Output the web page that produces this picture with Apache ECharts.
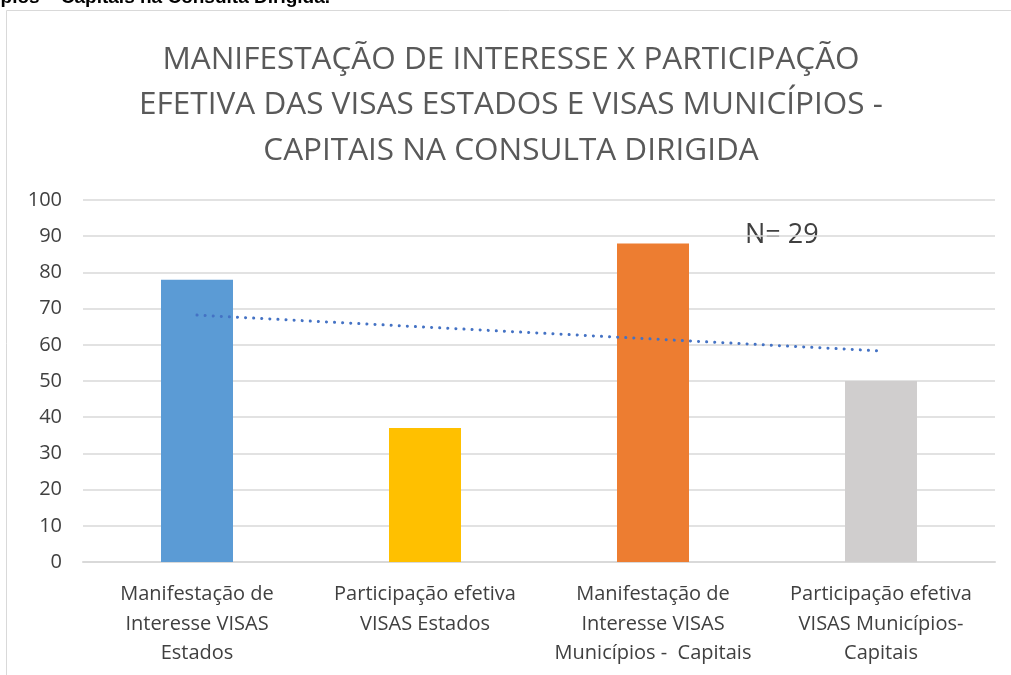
<!DOCTYPE html>
<html>
<head>
<meta charset="utf-8">
<script src="https://cdn.jsdelivr.net/npm/echarts@6/dist/echarts.min.js"></script>
<style>
html,body{margin:0;padding:0;background:#fff;}
#main{width:1011px;height:675px;}
</style>
</head>
<body>
<div id="main"></div>
<script>
var categories = [
	'Manifestação de\nInteresse VISAS\nEstados',
	'Participação efetiva\nVISAS Estados',
	'Manifestação de\nInteresse VISAS\nMunicípios -  Capitais',
	'Participação efetiva\nVISAS Municípios-\nCapitais'
];
var values = [78, 37, 88, 50];
var barColors = ['#5B9BD5', '#FFC000', '#ED7D31', '#D0CECE'];
// linha de tendência (pontilhada)
var trend = [68.2, 64.9, 61.6, 58.3];
var yTicks = [0, 100, 10];

var myChart = echarts.init(document.getElementById('main'));

var option = {
	animation: false,
	title: {
		text: 'MANIFESTAÇÃO DE INTERESSE X PARTICIPAÇÃO\nEFETIVA DAS VISAS ESTADOS E VISAS MUNICÍPIOS -\nCAPITAIS NA CONSULTA DIRIGIDA',
		left: 506,
		textAlign: 'center',
		top: 32,
		textStyle: {
			fontFamily: '"Open Sans", sans-serif',
			fontWeight: 'normal',
			fontSize: 31.5,
			lineHeight: 45.5,
			color: '#595959'
		}
	},
	graphic: [
		{
			type: 'rect',
			shape: { x: 6.5, y: 10.5, width: 1100, height: 800 },
			style: { fill: 'none', stroke: '#d9d9d9', lineWidth: 1 },
			silent: true
		},
		{
			type: 'text',
			right: 681,
			top: -12,
			style: {
				text: 'Visas Municípios – Capitais na Consulta Dirigida.',
				font: 'bold 19px "Liberation Sans", Arial, sans-serif',
				fill: '#000'
			}
		},
		{
			type: 'text',
			left: 745,
			top: 222,
			style: {
				text: 'N= 29',
				font: '27px "Open Sans", sans-serif',
				fill: '#404040'
			}
		}
	],
	grid: {
		left: 83,
		right: 16,
		top: 200,
		bottom: 113
	},
	xAxis: {
		type: 'category',
		data: categories,
		axisTick: { show: false },
		axisLine: { lineStyle: { color: '#d9d9d9', width: 2 } },
		axisLabel: {
			interval: 0,
			margin: 18,
			fontFamily: '"Open Sans", sans-serif',
			fontSize: 20,
			lineHeight: 29.5,
			color: '#404040'
		}
	},
	yAxis: {
		type: 'value',
		min: yTicks[0],
		max: yTicks[1],
		interval: yTicks[2],
		axisLine: { show: false },
		axisTick: { show: false },
		splitLine: { lineStyle: { color: '#d9d9d9', width: 1.5 } },
		axisLabel: {
			margin: 21,
			fontFamily: '"Open Sans", sans-serif',
			fontSize: 20,
			color: '#404040'
		}
	},
	series: [
		{
			type: 'bar',
			barWidth: 72,
			data: values.map(function (v, i) {
				return { value: v, itemStyle: { color: barColors[i] } };
			})
		},
		{
			type: 'line',
			data: trend,
			symbol: 'none',
			silent: true,
			lineStyle: { color: '#4472C4', width: 3, type: [0.1, 8], cap: 'round' }
		}
	]
};
myChart.setOption(option);
</script>
</body>
</html>
